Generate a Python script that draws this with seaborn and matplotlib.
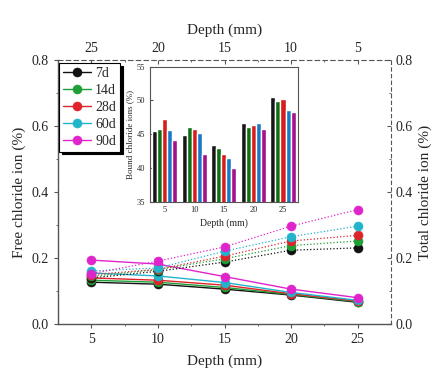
import matplotlib
matplotlib.use("Agg")
import matplotlib.pyplot as plt
import pandas as pd
import seaborn as sns
import numpy as np

# ==============================================================================
# DADOS
# ==============================================================================
idades = ["7d", "14d", "28d", "60d", "90d"]
profundidade = [5, 10, 15, 20, 25]

# cloreto livre (linha cheia, eixo inferior)
livre_7d = [0.127, 0.121, 0.106, 0.088, 0.066]
livre_14d = [0.133, 0.127, 0.111, 0.090, 0.068]
livre_28d = [0.140, 0.133, 0.118, 0.092, 0.070]
livre_60d = [0.155, 0.146, 0.126, 0.096, 0.072]
livre_90d = [0.194, 0.182, 0.144, 0.106, 0.080]

# cloreto total (linha pontilhada, eixo superior invertido)
total_7d = [0.231, 0.224, 0.188, 0.160, 0.140]
total_14d = [0.252, 0.238, 0.198, 0.165, 0.145]
total_28d = [0.269, 0.252, 0.206, 0.166, 0.150]
total_60d = [0.297, 0.265, 0.221, 0.170, 0.161]
total_90d = [0.347, 0.297, 0.234, 0.191, 0.153]

# cloreto ligado (inset de barras)
ligado_7d = [45.5, 44.9, 43.4, 46.7, 50.5]
ligado_14d = [45.7, 46.0, 43.0, 46.0, 49.9]
ligado_28d = [47.3, 45.8, 42.0, 46.4, 50.2]
ligado_60d = [45.6, 45.2, 41.5, 46.7, 48.6]
ligado_90d = [44.1, 42.1, 40.0, 45.7, 48.3]

livre = [livre_7d, livre_14d, livre_28d, livre_60d, livre_90d]
total = [total_7d, total_14d, total_28d, total_60d, total_90d]
ligado = [ligado_7d, ligado_14d, ligado_28d, ligado_60d, ligado_90d]

def longo(series, col):
    linhas = []
    for idade, vals in zip(idades, series):
        for d, v in zip(profundidade, vals):
            linhas.append({"Idade": idade, "Depth": d, col: v})
    return pd.DataFrame(linhas)

df_livre = longo(livre, "Free")
df_total = longo(total, "Total")
df_ligado = longo(ligado, "Bound")

# ==============================================================================
# GRAFICO
# ==============================================================================
sns.set_style("ticks")
plt.rcParams["font.family"] = ["Liberation Serif", "DejaVu Serif"]

cores = {"7d": "#111111", "14d": "#1f9e35", "28d": "#e0222a", "60d": "#22b4cc", "90d": "#e024cc"}
cores_barra = {"7d": "#161616", "14d": "#0f6e14", "28d": "#d81c1c", "60d": "#1b78c4", "90d": "#a3128c"}
cinza = "#555555"

fig = plt.figure(figsize=(4.36, 3.76), dpi=100)
ax = fig.add_axes([0.133, 0.138, 0.764, 0.702])

sns.lineplot(data=df_livre, x="Depth", y="Free", hue="Idade", palette=cores,
             marker="o", markersize=6.5, linewidth=1.0, ax=ax, legend=False)
for ln in ax.lines:
    ln.set_markeredgecolor(ln.get_color())
    ln.set_markeredgewidth(0.4)

ax2 = ax.twiny()
sns.lineplot(data=df_total, x="Depth", y="Total", hue="Idade", palette=cores,
             marker="o", markersize=6.5, linewidth=0.9, linestyle=":", ax=ax2, legend=False)
for ln in ax2.lines:
    ln.set_markeredgecolor(ln.get_color())
    ln.set_markeredgewidth(0.4)
    ln.set_linestyle(":")

ax.set_xlim(2.5, 27.5)
ax2.set_xlim(27.5, 2.5)
ax.set_ylim(0, 0.8)
ax2.set_ylim(0, 0.8)

ax.set_xticks([5, 10, 15, 20, 25])
ax.set_xticks([7.5, 12.5, 17.5, 22.5], minor=True)
ax.set_yticks([0.0, 0.2, 0.4, 0.6, 0.8])
ax.set_yticks([0.1, 0.3, 0.5, 0.7], minor=True)
ax.yaxis.set_major_formatter(matplotlib.ticker.FormatStrFormatter("%.1f"))
ax2.set_xticks([25, 20, 15, 10, 5])
ax2.set_xticks([22.5, 17.5, 12.5, 7.5], minor=True)

ax3 = ax.twinx()
ax3.set_ylim(0, 0.8)
ax3.set_yticks([0.0, 0.2, 0.4, 0.6, 0.8])
ax3.set_yticks([0.1, 0.3, 0.5, 0.7], minor=True)
ax3.yaxis.set_major_formatter(matplotlib.ticker.FormatStrFormatter("%.1f"))

for s in ["top", "right"]:
    ax.spines[s].set_visible(False)
for s in ["bottom", "left", "right"]:
    ax2.spines[s].set_visible(False)
for s in ["bottom", "left", "top"]:
    ax3.spines[s].set_visible(False)
for s in ["left", "bottom"]:
    ax.spines[s].set_color(cinza)
    ax.spines[s].set_linewidth(1.0)
ax2.spines["top"].set_linestyle((0, (4, 3)))
ax2.spines["top"].set_color(cinza)
ax3.spines["right"].set_linestyle((0, (3, 3)))
ax3.spines["right"].set_color(cinza)

ax.tick_params(which="major", direction="out", length=3, color=cinza, labelsize=10)
ax.tick_params(which="minor", direction="out", length=1.5, color=cinza)
ax2.tick_params(which="major", direction="in", length=3, color=cinza, labelsize=10)
ax2.tick_params(which="minor", direction="in", length=1.5, color=cinza)
ax3.tick_params(which="major", direction="in", length=3, color=cinza, labelsize=10)
ax3.tick_params(which="minor", direction="in", length=1.5, color=cinza)

ax.set_xlabel("Depth (mm)", fontsize=11, labelpad=6)
ax.set_ylabel("Free chloride ion (%)", fontsize=11, labelpad=4)
ax2.set_xlabel("Depth (mm)", fontsize=11, labelpad=6)
ax2.set_ylabel("")
ax3.set_ylabel("Total chloride ion (%)", fontsize=11, labelpad=4)

handles = list(ax.lines[:5])
leg = ax3.legend(handles, idades, loc="upper left", bbox_to_anchor=(0.003, 0.99),
                 borderaxespad=0, fontsize=10, frameon=True, fancybox=False,
                 handlelength=2.0, handletextpad=0.3, borderpad=0.3, labelspacing=0.28,
                 shadow={"color": "black", "alpha": 1.0})
leg.get_frame().set_edgecolor("black")
leg.get_frame().set_linewidth(0.8)

# inset de barras
axi = fig.add_axes([0.344, 0.464, 0.339, 0.359])
sns.barplot(data=df_ligado, x="Depth", y="Bound", hue="Idade", palette=cores_barra,
            width=0.85, ax=axi, legend=False, saturation=1)
axi.set_ylim(35, 55)
axi.set_yticks([35, 40, 45, 50, 55])
axi.set_xlim(-0.5, 4.5)
axi.tick_params(labelsize=6, length=2, direction="in", color=cinza)
axi.set_xlabel("Depth (mm)", fontsize=7, labelpad=3)
axi.set_ylabel("Bound chloride ions (%)", fontsize=6.5, labelpad=2)
for s in axi.spines.values():
    s.set_color(cinza)
    s.set_linewidth(0.8)

fig.savefig("out.png", dpi=100)
